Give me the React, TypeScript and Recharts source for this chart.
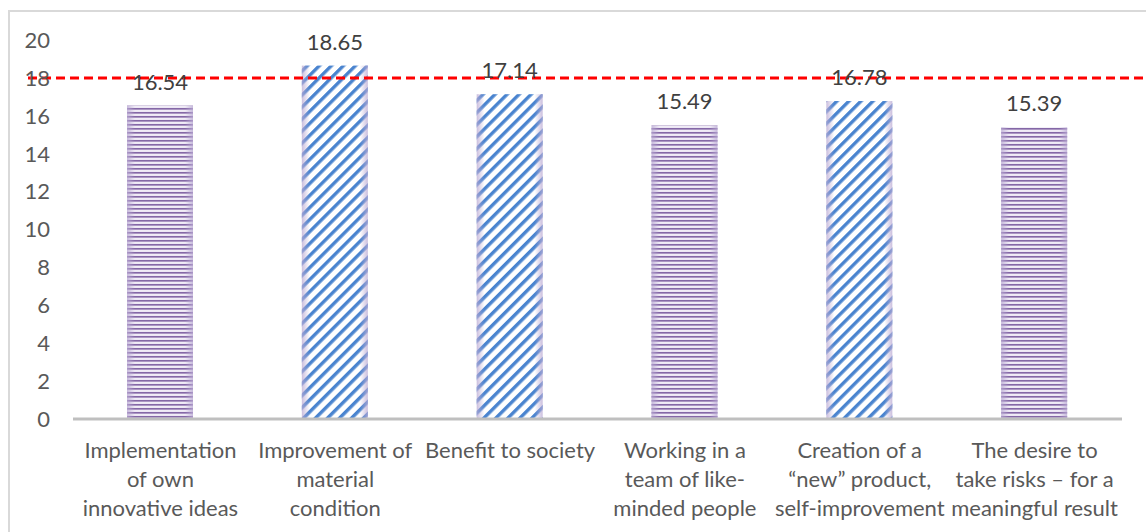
import React from "react";
import { BarChart, Bar, XAxis, YAxis, LabelList, ReferenceLine, Cell } from "recharts";

const categories = [
  "Implementation\nof own\ninnovative ideas",
  "Improvement of\nmaterial\ncondition",
  "Benefit to society",
  "Working in a\nteam of like-\nminded people",
  "Creation of a\n\u201cnew\u201d product,\nself-improvement",
  "The desire to\ntake risks \u2013 for a\nmeaningful result",
];
const values = [16.54, 18.65, 17.14, 15.49, 16.78, 15.39];
const yTicks = [0, 2, 4, 6, 8, 10, 12, 14, 16, 18, 20];
const threshold = 18;

// which hatch each bar uses
const fills = ["url(#hstripe)", "url(#diag)", "url(#diag)", "url(#hstripe)", "url(#diag)", "url(#hstripe)"];

const data = categories.map((name, i) => ({ name, value: values[i] }));

const CategoryTick = (props: any) => {
  const { x, y, payload } = props;
  const lines = String(payload.value).split("\n");
  return (
    <text x={x} y={y} textAnchor="middle" fill="#595959" fontSize={22}>
      {lines.map((l, i) => (
        <tspan key={i} x={x} y={y + 39 + i * 29}>
          {l}
        </tspan>
      ))}
    </text>
  );
};

const HatchedBar = (props: any) => {
  const { x, y, width, height, fill } = props;
  if (!height || height <= 0) return null;
  return (
    <g>
      <rect x={x} y={y} width={width} height={height} fill={fill} />
      <rect x={x} y={y} width={width} height={height} fill="url(#edgeGlow)" />
    </g>
  );
};

const DashedThreshold = (props: any) => {
  const { x1, y1, x2, y2 } = props;
  return (
    <line
      x1={x1 - 45}
      y1={y1}
      x2={x2 + 40}
      y2={y2}
      stroke="#FF0000"
      strokeWidth={3}
      strokeDasharray="9 5"
    />
  );
};

export default function App() {
  return (
    <div
      style={{
        position: "absolute",
        left: 8,
        top: 10,
        width: 1150,
        height: 540,
        borderTop: "2px solid #D9D9D9",
        borderLeft: "2px solid #D9D9D9",
        fontFamily: "Lato, 'Open Sans', sans-serif",
        background: "#fff",
      }}
    >
      <BarChart
        width={1136}
        height={520}
        data={data}
        margin={{ top: 28, right: 24, left: 13, bottom: 13 }}
        barSize={66}
      >
        <defs>
          <pattern id="hstripe" patternUnits="userSpaceOnUse" width={8} height={4}>
            <rect x={0} y={0} width={8} height={4} fill="#E6DFF0" />
            <rect x={0} y={0} width={8} height={1.6} fill="#8467A6" />
            <rect x={0} y={2.4} width={8} height={1} fill="#F8F5FB" />
          </pattern>
          <pattern
            id="diag"
            patternUnits="userSpaceOnUse"
            width={8.5}
            height={8.5}
            patternTransform="rotate(45)"
          >
            <rect x={0} y={0} width={8.5} height={8.5} fill="#FFFFFF" />
            <rect x={0} y={0} width={3.4} height={8.5} fill="#4A84CF" />
          </pattern>
          <linearGradient id="edgeGlow" x1="0" y1="0" x2="1" y2="0">
            <stop offset="0%" stopColor="#B9A9D3" stopOpacity={0.75} />
            <stop offset="12%" stopColor="#B9A9D3" stopOpacity={0} />
            <stop offset="88%" stopColor="#B9A9D3" stopOpacity={0} />
            <stop offset="100%" stopColor="#B9A9D3" stopOpacity={0.75} />
          </linearGradient>
        </defs>
        <XAxis
          dataKey="name"
          interval={0}
          tickLine={false}
          tickSize={0}
          tickMargin={0}
          axisLine={{ stroke: "#BFBFBF", strokeWidth: 3 }}
          tick={<CategoryTick />}
          height={100}
        />
        <YAxis
          domain={[0, 20]}
          ticks={yTicks}
          width={50}
          axisLine={false}
          tickLine={false}
          tickSize={0}
          tickMargin={23}
          tick={{ fill: "#595959", fontSize: 22 }}
        />
        <Bar dataKey="value" isAnimationActive={false} shape={<HatchedBar />}>
          {data.map((_, i) => (
            <Cell key={i} fill={fills[i]} />
          ))}
          <LabelList dataKey="value" position="top" offset={16} fill="#404040" fontSize={22} />
        </Bar>
        <ReferenceLine y={threshold} shape={<DashedThreshold />} />
      </BarChart>
    </div>
  );
}
